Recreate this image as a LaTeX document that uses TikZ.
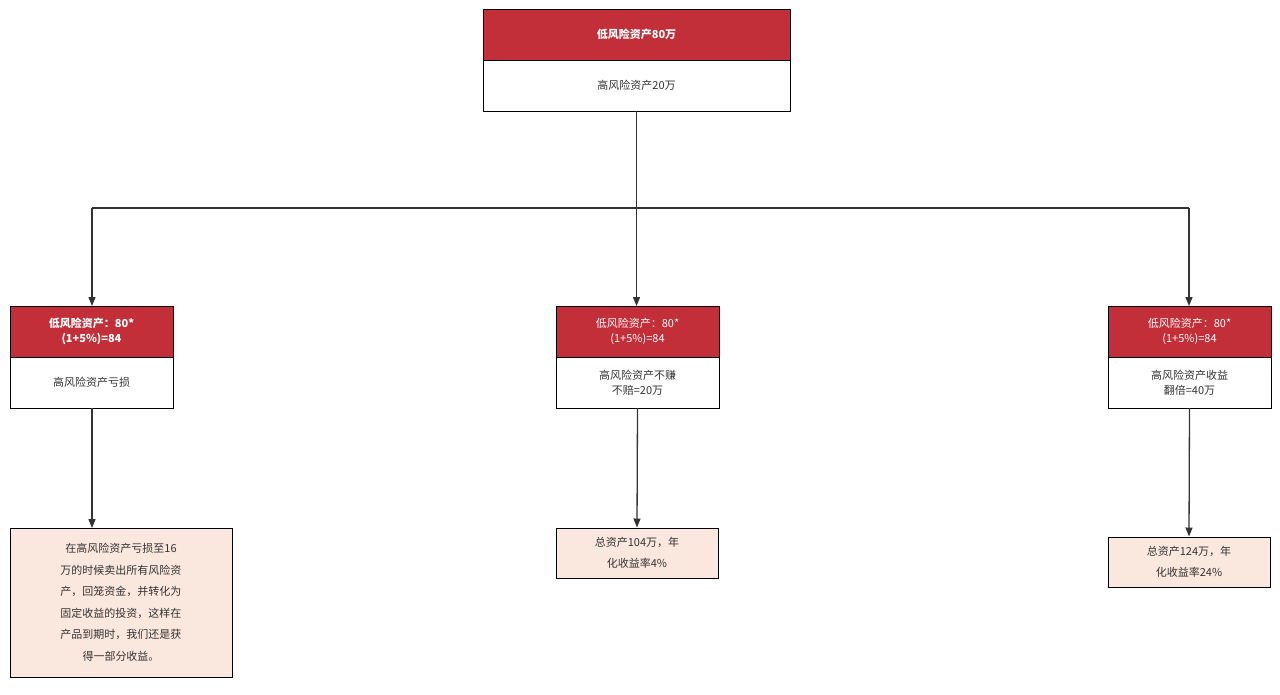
\documentclass[tikz,border=0pt]{standalone}
\usepackage{fontspec}
\setmainfont{Noto Sans CJK SC}
\usetikzlibrary{arrows.meta}
\definecolor{rd}{HTML}{C22F39}
\definecolor{pk}{HTML}{FAE8DE}
\definecolor{tx}{HTML}{333333}
\tikzset{
 lbl/.style={font=\fontsize{11}{14}\selectfont, text=tx, align=center},
 wlbl/.style={font=\fontsize{11}{14}\selectfont, text=white, align=center},
 conn/.style={draw=tx, line width=1.3pt, -{Triangle[length=9pt,width=7pt]}},
 box/.style={draw=black, line width=1pt}
}
\begin{document}
\begin{tikzpicture}[x=1pt,y=-1pt]
\useasboundingbox (0,0) rectangle (1280,694);
% top
\fill[rd] (483,9) rectangle (790,60);
\draw[box] (483,9) rectangle (790,111);
\draw[box] (483,60) -- (790,60);
\node[wlbl,font=\fontsize{11}{14}\selectfont\bfseries] (t1) at (636.5,34.5) {低风险资产80万};
\node[lbl] (t2) at (636.5,85.5) {高风险资产20万};
\coordinate (tb) at (636.5,111);
\coordinate (hL) at (92,208);
\coordinate (hR) at (1189,208);
% mid boxes
\foreach \n/\x in {a/10,b/556,c/1108}{
 \fill[rd] (\x,306) rectangle ({\x+163},357);
 \draw[box] (\x,306) rectangle ({\x+163},408);
 \draw[box] (\x,357) -- ({\x+163},357);
 \coordinate (\n top) at ({\x+81.5},306);
 \coordinate (\n bot) at ({\x+81.5},408);
}
\node[wlbl,font=\fontsize{11}{15}\selectfont\bfseries] (a1) at (91.5,331.5) {低风险资产：80*\\(1+5\%)=84};
\node[wlbl,font=\fontsize{11}{15}\selectfont] (b1) at (637.5,331.5) {低风险资产：80*\\(1+5\%)=84};
\node[wlbl,font=\fontsize{11}{15}\selectfont] (c1) at (1189.5,331.5) {低风险资产：80*\\(1+5\%)=84};
\node[lbl] (a2) at (91.5,382.5) {高风险资产亏损};
\node[lbl,font=\fontsize{11}{15}\selectfont] (b2) at (637.5,382.5) {高风险资产不赚\\不赔=20万};
\node[lbl,font=\fontsize{11}{15}\selectfont] (c2) at (1189.5,382.5) {高风险资产收益\\翻倍=40万};
% bottom boxes
\node[box,fill=pk,lbl,font=\fontsize{11}{21.5}\selectfont,minimum width=222pt,minimum height=149pt,text width=200pt] (d1) at (121,602.5) {在高风险资产亏损至16\\万的时候卖出所有风险资\\产，回笼资金，并转化为\\固定收益的投资，这样在\\产品到期时，我们还是获\\得一部分收益。};
\node[box,fill=pk,lbl,font=\fontsize{11}{21.5}\selectfont,minimum width=162pt,minimum height=50pt] (d2) at (637,553) {总资产104万，年\\化收益率4\%};
\node[box,fill=pk,lbl,font=\fontsize{11}{21.5}\selectfont,minimum width=162pt,minimum height=50pt] (d3) at (1189,562) {总资产124万，年\\化收益率24\%};
% connectors
\draw[draw=tx,line width=1.3pt] (tb) -- (636.5,208);
\draw[draw=tx,line width=1.3pt] (hL) -- (hR);
\draw[conn] (hL) -- (92,306);
\draw[conn] (636.5,208) -- (636.5,306);
\draw[conn] (hR) -- (1189,306);
\draw[conn] (92,408) -- (92,528);
\draw[conn] (bbot) -- (d2.north);
\draw[conn] (cbot) -- (d3.north);
\end{tikzpicture}
\end{document}
